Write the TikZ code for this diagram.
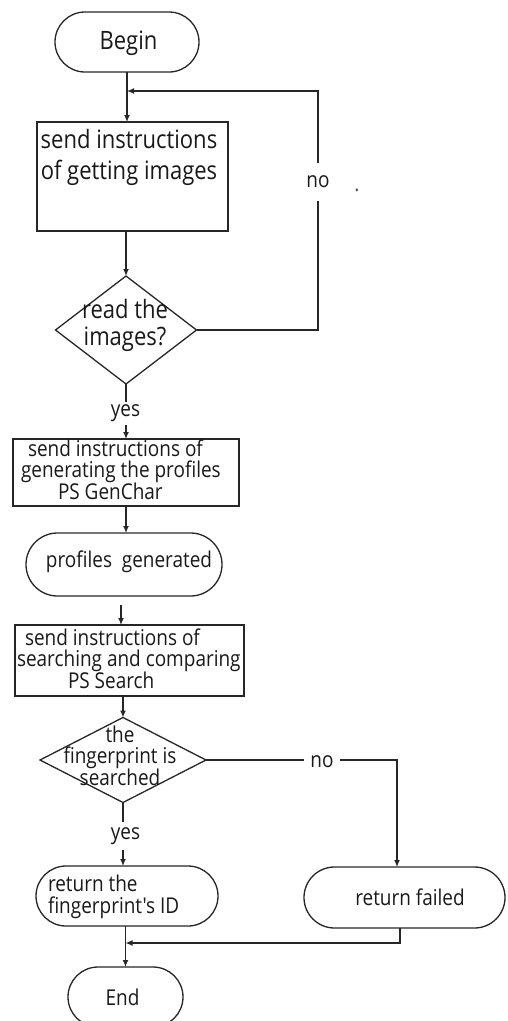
\documentclass[tikz,border=0pt]{standalone}
\usepackage{fontspec}
\newfontfamily\chartfont[FakeStretch=0.87]{Open Sans}
\usetikzlibrary{shapes.geometric,shapes.misc,arrows.meta}
\begin{document}
\begin{tikzpicture}[x=1pt,y=-1pt,
  every node/.style={inner sep=0pt, outer sep=0pt},
  shapeline/.style={draw=black!85, line width=1.3pt},
  terminal/.style={shapeline, rounded rectangle},
  process/.style={shapeline, rectangle},
  decision/.style={shapeline, diamond},
  flow/.style={draw=black!85, line width=1.3pt, -{Latex[length=7pt,width=6pt]}},
  txt/.style={font=\chartfont\fontsize{21.8}{20.5}\selectfont, text=black!90},
  bigtxt/.style={font=\chartfont\fontsize{25.3}{31}\selectfont, text=black!90},
  lbl/.style={txt, fill=white, inner xsep=3pt}
]
\path[use as bounding box] (0,0) rectangle (507,1021);
\clip (0,0) rectangle (507,1021);

% shapes
\node[terminal, minimum width=144, minimum height=60] (begin) at (127,42) {};
\node[process, minimum width=191, minimum height=109] (b1) at (132.5,176.5) {};
\node[decision, minimum width=141, minimum height=108] (d1) at (126,330) {};
\node[process, minimum width=226, minimum height=67] (b2) at (126,472.5) {};
\node[terminal, minimum width=196, minimum height=63] (s2) at (124,564.5) {};
\node[process, minimum width=229, minimum height=71] (b3) at (129.5,660.5) {};
\node[decision, minimum width=166, minimum height=85] (d2) at (123,760) {};
\node[terminal, minimum width=182, minimum height=60] (s3) at (127,896) {};
\node[terminal, minimum width=201, minimum height=61] (s4) at (404.5,897.5) {};
\node[terminal, minimum width=115, minimum height=60] (end) at (125.5,997) {};

% texts
\node[bigtxt] (begin-t) at (128.5,43) {Begin};
\node[bigtxt, align=center] (b1-t) at (129,157.5) {send instructions\\of getting images};
\node[bigtxt, align=center, font=\chartfont\fontsize{25.3}{27}\selectfont] (d1-t) at (125,325) {read the\\images?};
\node[txt, align=left, anchor=west] (b2-t) at (21,470) {\hspace*{7pt}send instructions of\\generating the profiles\\\hspace*{37pt}PS GenChar};
\node[txt] (s2-t) at (129,562) {profiles\ \ generated};
\node[txt, align=left, anchor=west] (b3-t) at (17,659) {\hspace*{8pt}send instructions of\\searching and comparing\\\hspace*{51pt}PS Search};
\node[txt, align=center] (d2-t) at (120,756) {the\\fingerprint is\\searched};
\node[txt, align=left, anchor=west, font=\chartfont\fontsize{21.8}{22}\selectfont] (s3-t) at (48,897) {return the\\fingerprint's ID};
\node[txt] (s4-t) at (410,897) {return failed};
\node[txt] (end-t) at (122.5,997) {End};
\node[txt, text=black!70] (dot) at (357,190) {.};

% connectors
\coordinate (loopc) at (318,91);
\coordinate (noc) at (397,761);
\coordinate (gap) at (121,605);
\coordinate (merge) at (400,943);

\draw[flow] (begin.south) -- (begin.south |- b1.north);
\draw[flow] (d1.north |- b1.south) -- (d1.north);
\draw[flow] (d1.east) -| (loopc) -- (begin.south |- loopc);
\draw[flow] (d1.south) -- (d1.south |- b2.north);
\draw[flow] (b2.south -| d1.south) -- (d1.south |- s2.north);
\draw[flow] (gap) -- (gap |- b3.north);
\draw[flow] (d2.north |- b3.south) -- (d2.north);
\draw[flow] (d2.south) -- (d2.south |- s3.north);
\draw[flow] (d2.east) -| (noc) -- (noc |- s4.north);
\draw[flow] (end.north |- s3.south) -- (end.north);
\draw[flow] (merge |- s4.south) -- (merge) -- (end.north |- merge);

% branch labels
\node[lbl, minimum height=38] (no1) at (318,182) {no};
\node[lbl, minimum height=23] (yes1) at (125.5,413) {yes};
\node[lbl, minimum height=28] (yes2) at (125.5,836) {yes};
\node[lbl, minimum width=36] (no2) at (322,762) {no};
\end{tikzpicture}
\end{document}
